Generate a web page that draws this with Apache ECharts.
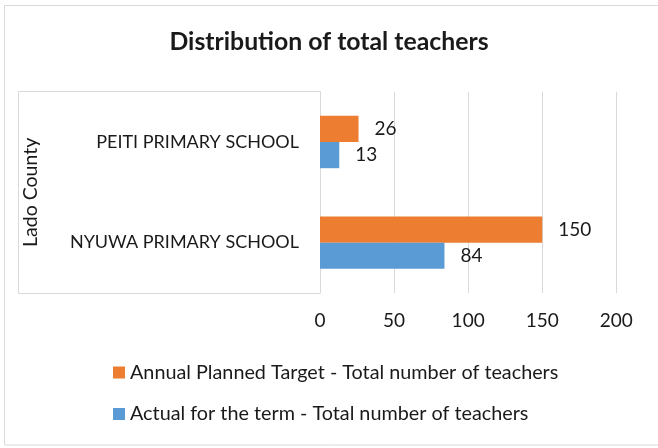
<!DOCTYPE html>
<html><head><meta charset="utf-8">
<script src="https://cdn.jsdelivr.net/npm/echarts@6/dist/echarts.min.js"></script>
<style>html,body{margin:0;padding:0;background:#fff}#c{width:658px;height:448px}</style>
</head><body><div id="c"></div>
<script>
const categories = ['NYUWA PRIMARY SCHOOL', 'PEITI PRIMARY SCHOOL'];
const groupName = 'Lado County';
const seriesNames = ['Annual Planned Target - Total number of teachers', 'Actual for the term - Total number of teachers'];
const plannedValues = [150, 26];
const actualValues = [84, 13];
const xTicks = [0, 50, 100, 150, 200];

const FONT = 'Lato';
const TXT = '#1a1a1a';
const chart = echarts.init(document.getElementById('c'), null, {renderer: 'canvas'});
chart.setOption({
  backgroundColor: '#fff',
  animation: false,
  textStyle: {fontFamily: FONT},
  title: {
    text: 'Distribution of total teachers',
    left: 'center', top: 25,
    textStyle: {fontFamily: FONT, fontWeight: 'bold', fontSize: 24.8, color: TXT}
  },
  legend: {
    orient: 'vertical', left: 108, top: 357.5, itemGap: 21.5,
    itemWidth: 12, itemHeight: 12, icon: 'rect',
    data: [seriesNames[0], seriesNames[1]],
    textStyle: {fontFamily: FONT, fontSize: 19.8, color: TXT}
  },
  grid: {left: 320, right: 41.7, top: 91.7, bottom: 155, containLabel: false},
  xAxis: {
    type: 'value', min: xTicks[0], max: xTicks[xTicks.length - 1], interval: 50,
    axisLine: {show: false}, axisTick: {show: false},
    splitLine: {lineStyle: {color: '#d9d9d9', width: 1}},
    axisLabel: {fontFamily: FONT, fontSize: 19, color: TXT, margin: 18}
  },
  yAxis: {
    type: 'category', data: categories,
    name: groupName, nameLocation: 'middle', nameRotate: 90, nameGap: 279,
    nameTextStyle: {fontFamily: FONT, fontSize: 19.5, color: TXT},
    axisLine: {lineStyle: {color: '#d9d9d9', width: 1}},
    axisTick: {show: false},
    axisLabel: {fontFamily: FONT, fontSize: 18, color: TXT, margin: 21}
  },
  graphic: [
    {type: 'rect', shape: {x: 4.5, y: 5.5, width: 700, height: 439.5}, style: {fill: 'none', stroke: '#d9d9d9', lineWidth: 1}, silent: true},
    {type: 'polyline', shape: {points: [[320, 91.5], [18.5, 91.5], [18.5, 293.5], [320, 293.5]]}, style: {fill: 'none', stroke: '#d9d9d9', lineWidth: 1}, silent: true}
  ],
  series: [
    {
      name: seriesNames[0], type: 'bar', data: plannedValues,
      itemStyle: {color: '#ED7D31'}, barGap: '0%', barCategoryGap: '48%',
      label: {show: true, position: 'right', distance: 16, fontFamily: FONT, fontSize: 19, color: TXT}
    },
    {
      name: seriesNames[1], type: 'bar', data: actualValues,
      itemStyle: {color: '#5B9BD5'}, barGap: '0%', barCategoryGap: '48%',
      label: {show: true, position: 'right', distance: 16, fontFamily: FONT, fontSize: 19, color: TXT}
    }
  ]
});
</script></body></html>
